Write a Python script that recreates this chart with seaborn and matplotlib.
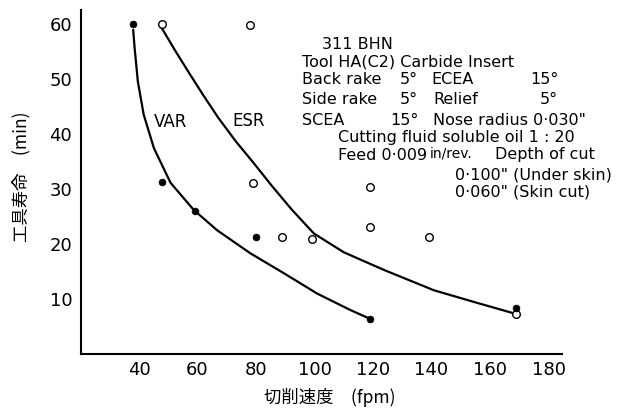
import matplotlib
matplotlib.use("Agg")
import matplotlib.pyplot as plt
import seaborn as sns
import pandas as pd

# ---- data ----
var_speed = [38, 48, 59, 80, 119, 169]
var_life = [60, 31.2, 26, 21.2, 6.4, 8.4]
esr_speed = [48, 78, 79, 89, 99, 119, 119, 139, 169]
esr_life = [60, 59.8, 31, 21.3, 21, 30.3, 23, 21.2, 7.3]

var_curve_speed = [38.0, 38.5, 39.6, 41.6, 45.1, 50.8, 58.7, 66.7, 78.1, 89.5, 100.9, 112.3, 118.6]
var_curve_life = [58.9, 55.6, 49.5, 43.5, 37.4, 31.1, 26.2, 22.5, 18.3, 14.7, 11.0, 8.0, 6.5]
esr_curve_speed = [47.8, 52.5, 57.2, 62, 67, 73, 79.2, 85.5, 92.3, 99.8, 110, 123.7, 140.8, 155, 168.2]
esr_curve_life = [59.2, 55.0, 51.0, 47.0, 43.0, 38.7, 34.7, 30.5, 26.2, 21.9, 18.5, 15.3, 11.6, 9.4, 7.4]

x_ticks = [40, 60, 80, 100, 120, 140, 160, 180]
y_ticks = [10, 20, 30, 40, 50, 60]
x_label = "切削速度\u3000(fpm)"
y_label = "工具寿命\u3000(min)"

sns.set_style("white")
plt.rcParams["font.family"] = ["DejaVu Sans"]
plt.rcParams["text.color"] = "black"
plt.rcParams["axes.labelcolor"] = "black"
cjk = ["Noto Sans CJK JP", "DejaVu Sans"]

fig = plt.figure(figsize=(6.29, 4.08), dpi=100)
ax = fig.add_axes([0.128, 0.132, 0.766, 0.8435])

var_curve = pd.DataFrame({"speed": var_curve_speed, "life": var_curve_life})
esr_curve = pd.DataFrame({"speed": esr_curve_speed, "life": esr_curve_life})
sns.lineplot(data=var_curve, x="speed", y="life", sort=False, estimator=None,
             color="black", linewidth=1.6, ax=ax)
sns.lineplot(data=esr_curve, x="speed", y="life", sort=False, estimator=None,
             color="black", linewidth=1.6, ax=ax)

var_df = pd.DataFrame({"speed": var_speed, "life": var_life})
esr_df = pd.DataFrame({"speed": esr_speed, "life": esr_life})
sns.scatterplot(data=esr_df, x="speed", y="life", marker="o", s=30,
                facecolor="white", edgecolor="black", linewidth=1.0, ax=ax, zorder=3)
sns.scatterplot(data=var_df, x="speed", y="life", marker="o", s=24,
                color="black", edgecolor="black", linewidth=0.5, ax=ax, zorder=4)

ax.set_xlim(20, 184.7)
ax.set_ylim(0, 62.5)
ax.set_xticks(x_ticks)
ax.set_yticks(y_ticks)
ax.tick_params(axis="both", direction="in", length=5, width=1.0, labelsize=13,
               colors="black")
ax.tick_params(axis="y", pad=6)
ax.tick_params(axis="x", pad=5)
for s in ["top", "right"]:
    ax.spines[s].set_visible(False)
for s in ["left", "bottom"]:
    ax.spines[s].set_linewidth(1.5)
    ax.spines[s].set_color("black")

ax.set_xlabel(x_label, fontsize=12.5, family=cjk, color="black")
ax.set_ylabel(y_label, fontsize=12.5, family=cjk, color="black")
ax.xaxis.set_label_coords(0.518, -0.099)
ax.yaxis.set_label_coords(-0.103, 0.515)

ax.text(45, 42.2, "VAR", fontsize=12, ha="left", va="center", color="black")
ax.text(72, 42.4, "ESR", fontsize=12, ha="left", va="center", color="black")

fs = 11.5
notes = [
    (102.4, 56.2, "311 BHN"),
    (95.6, 53.1, "Tool HA(C2) Carbide Insert"),
    (95.6, 49.8, "Back rake"), (129.2, 49.8, "5°"), (140.0, 49.8, "ECEA"), (173.6, 49.8, "15°"),
    (95.6, 46.2, "Side rake"), (129.2, 46.2, "5°"), (140.6, 46.2, "Relief"), (177.0, 46.2, "5°"),
    (95.6, 42.5, "SCEA"), (125.8, 42.5, "15°"), (140.6, 42.5, "Nose radius 0·030\""),
    (108.1, 39.4, "Cutting fluid soluble oil 1 : 20"),
    (108.1, 36.0, "Feed 0·009"), (161.7, 36.2, "Depth of cut"),
    (148.0, 32.5, "0·100\" (Under skin)"),
    (148.0, 29.4, "0·060\" (Skin cut)"),
]
for x, y, t in notes:
    ax.text(x, y, t, fontsize=fs, ha="left", va="center", color="black")
ax.text(139.3, 36.4, "in/rev.", fontsize=10, ha="left", va="center", color="black")

fig.savefig("out.png", dpi=100)
